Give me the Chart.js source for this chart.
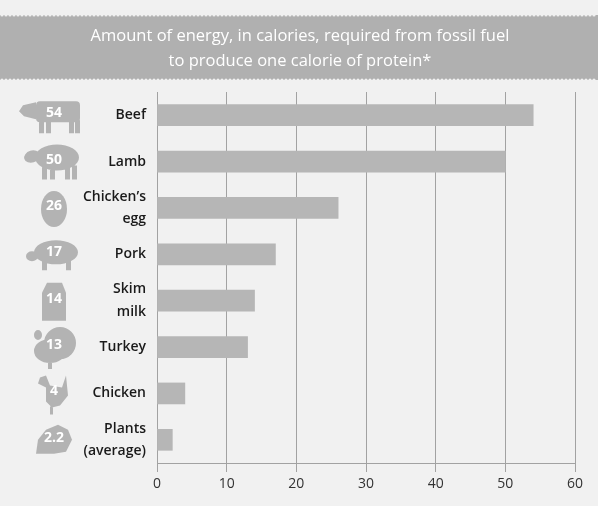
<!DOCTYPE html>
<html>
<head>
<meta charset="utf-8">
<script src="https://cdn.jsdelivr.net/npm/chart.js@4.4.0/dist/chart.umd.min.js"></script>
<style>
    html, body { margin: 0; padding: 0; background: #f1f1f1; }
    #wrap { width: 598px; height: 506px; position: relative; }
</style>
</head>
<body>
<div id="wrap"><canvas id="chart"></canvas></div>
<script>
// данные графика
const categories = [["Beef"], ["Lamb"], ["Chicken\u2019s", "egg"], ["Pork"], ["Skim", "milk"], ["Turkey"], ["Chicken"], ["Plants", "(average)"]];
const energyValues = [54, 50, 26, 17, 14, 13, 4, 2.2];
const iconLabels = ["54", "50", "26", "17", "14", "13", "4", "2.2"];
const xTicks = [0, 10, 20, 30, 40, 50, 60];
const titleLines = ["Amount of energy, in calories, required from fossil fuel", "to produce one calorie of protein*"];

const iconKinds = ["cow", "sheep", "egg", "pig", "milk", "turkey", "chicken", "plant"];
const ICON_FILL = "#b3b3b3";

// полоса заголовка с "перфорированными" краями
const titleBand = {
    id: "titleBand",
    beforeDraw(chart) {
        const ctx = chart.ctx;
        const w = chart.width;
        ctx.save();
        ctx.fillStyle = "#f1f1f1";
        ctx.fillRect(0, 0, w, chart.height);
        ctx.fillStyle = "#b0b0b0";
        ctx.fillRect(0, 15, w, 65);
        ctx.fillStyle = "#f1f1f1";
        for (let x = 2; x < w; x += 4) {
            ctx.beginPath(); ctx.arc(x, 15, 1.6, 0, Math.PI * 2); ctx.fill();
            ctx.beginPath(); ctx.arc(x, 80, 1.6, 0, Math.PI * 2); ctx.fill();
        }
        ctx.fillStyle = "#ffffff";
        ctx.font = "16.5px 'Open Sans'";
        ctx.textAlign = "center";
        ctx.textBaseline = "middle";
        ctx.fillText(titleLines[0], 300, 36);
        ctx.fillText(titleLines[1], 300, 61);
        ctx.restore();
    }
};

function drawIcon(ctx, kind, cx, cy) {
    ctx.beginPath();
    switch (kind) {
        case "cow":
            ctx.roundRect(cx - 18, cy - 14, 44, 21, 4);
            ctx.moveTo(cx - 18, cy - 13);
            ctx.lineTo(cx - 31, cy - 10);
            ctx.lineTo(cx - 35, cy - 4);
            ctx.lineTo(cx - 30, cy + 1);
            ctx.lineTo(cx - 18, cy + 4);
            ctx.rect(cx - 15, cy + 5, 5, 13);
            ctx.rect(cx - 8, cy + 5, 5, 13);
            ctx.rect(cx + 15, cy + 5, 5, 13);
            ctx.rect(cx + 21, cy + 5, 5, 13);
            break;
        case "sheep":
            ctx.ellipse(cx + 3, cy - 4, 22, 13, 0, 0, Math.PI * 2);
            ctx.moveTo(cx - 14, cy - 10);
            ctx.ellipse(cx - 22, cy - 5, 8, 6, -0.3, 0, Math.PI * 2);
            ctx.rect(cx - 12, cy + 4, 5, 14);
            ctx.rect(cx - 4, cy + 4, 5, 14);
            ctx.rect(cx + 11, cy + 4, 5, 14);
            ctx.rect(cx + 18, cy + 4, 5, 14);
            break;
        case "egg":
            ctx.ellipse(cx, cy + 1, 13, 18, 0, 0, Math.PI * 2);
            break;
        case "pig":
            ctx.ellipse(cx + 2, cy - 2, 22, 12, 0, 0, Math.PI * 2);
            ctx.moveTo(cx - 18, cy - 6);
            ctx.ellipse(cx - 22, cy + 2, 6, 5, 0, 0, Math.PI * 2);
            ctx.rect(cx - 12, cy + 6, 5, 10);
            ctx.rect(cx + 12, cy + 6, 5, 10);
            break;
        case "milk":
            ctx.moveTo(cx - 12, cy - 8);
            ctx.lineTo(cx - 7, cy - 18);
            ctx.lineTo(cx + 8, cy - 18);
            ctx.lineTo(cx + 12, cy - 8);
            ctx.lineTo(cx + 12, cy + 20);
            ctx.lineTo(cx - 12, cy + 20);
            ctx.closePath();
            break;
        case "turkey":
            ctx.ellipse(cx + 6, cy - 4, 16, 16, 0, 0, Math.PI * 2);
            ctx.moveTo(cx - 10, cy);
            ctx.ellipse(cx - 4, cy + 4, 16, 12, 0, 0, Math.PI * 2);
            ctx.moveTo(cx - 14, cy - 10);
            ctx.ellipse(cx - 16, cy - 12, 4, 5, 0, 0, Math.PI * 2);
            ctx.rect(cx - 6, cy + 14, 4, 8);
            break;
        case "chicken":
            ctx.moveTo(cx - 14, cy - 16);
            ctx.lineTo(cx - 8, cy - 18);
            ctx.lineTo(cx - 4, cy - 8);
            ctx.lineTo(cx + 8, cy - 6);
            ctx.lineTo(cx + 12, cy - 18);
            ctx.lineTo(cx + 14, cy + 2);
            ctx.lineTo(cx + 6, cy + 12);
            ctx.lineTo(cx - 2, cy + 14);
            ctx.lineTo(cx - 8, cy + 8);
            ctx.lineTo(cx - 8, cy - 6);
            ctx.lineTo(cx - 16, cy - 10);
            ctx.closePath();
            ctx.rect(cx - 4, cy + 13, 3, 8);
            break;
        case "plant":
            ctx.moveTo(cx - 18, cy + 14);
            ctx.lineTo(cx - 16, cy);
            ctx.lineTo(cx - 8, cy - 10);
            ctx.lineTo(cx + 4, cy - 15);
            ctx.lineTo(cx + 14, cy - 10);
            ctx.lineTo(cx + 18, cy);
            ctx.lineTo(cx + 12, cy + 12);
            ctx.lineTo(cx, cy + 14);
            ctx.closePath();
            break;
    }
    ctx.fill();
}

// силуэты слева с числами
const icons = {
    id: "icons",
    afterDraw(chart) {
        const ctx = chart.ctx;
        const yScale = chart.scales.y;
        ctx.save();
        iconLabels.forEach((label, i) => {
            const cy = yScale.getPixelForValue(i);
            const cx = 54;
            ctx.fillStyle = ICON_FILL;
            drawIcon(ctx, iconKinds[i], cx, cy);
            ctx.fillStyle = "#ffffff";
            ctx.font = "bold 14px 'Open Sans'";
            ctx.textAlign = "center";
            ctx.textBaseline = "middle";
            ctx.fillText(label, cx, cy - 2);
        });
        ctx.restore();
    }
};

new Chart(document.getElementById("chart"), {
    type: "bar",
    data: {
        labels: categories,
        datasets: [{
            data: energyValues,
            backgroundColor: "#b6b6b6",
            barThickness: 21,
            borderWidth: 0
        }]
    },
    options: {
        indexAxis: "y",
        responsive: true,
        maintainAspectRatio: false,
        animation: false,
        layout: { padding: { top: 92, right: 23, left: 0, bottom: 0 } },
        plugins: {
            legend: { display: false },
            tooltip: { enabled: false }
        },
        scales: {
            x: {
                type: "linear",
                min: 0,
                max: 60,
                afterBuildTicks: (scale) => { scale.ticks = xTicks.map(v => ({ value: v })); },
                afterFit: (scale) => { scale.height = 43; },
                grid: { color: "#a2a2a2", lineWidth: 1, tickLength: 9, drawTicks: true },
                border: { display: true, color: "#a2a2a2" },
                ticks: {
                    color: "#333333",
                    font: { family: "'Open Sans'", size: 14 },
                    padding: 4
                }
            },
            y: {
                afterFit: (scale) => { scale.width = 157; },
                grid: { display: false },
                border: { display: true, color: "#a2a2a2" },
                ticks: {
                    autoSkip: false,
                    color: "#1a1a1a",
                    font: { family: "'Open Sans'", size: 14, weight: "600", lineHeight: 1.6 },
                    padding: 3
                }
            }
        }
    },
    plugins: [titleBand, icons]
});
</script>
</body>
</html>
